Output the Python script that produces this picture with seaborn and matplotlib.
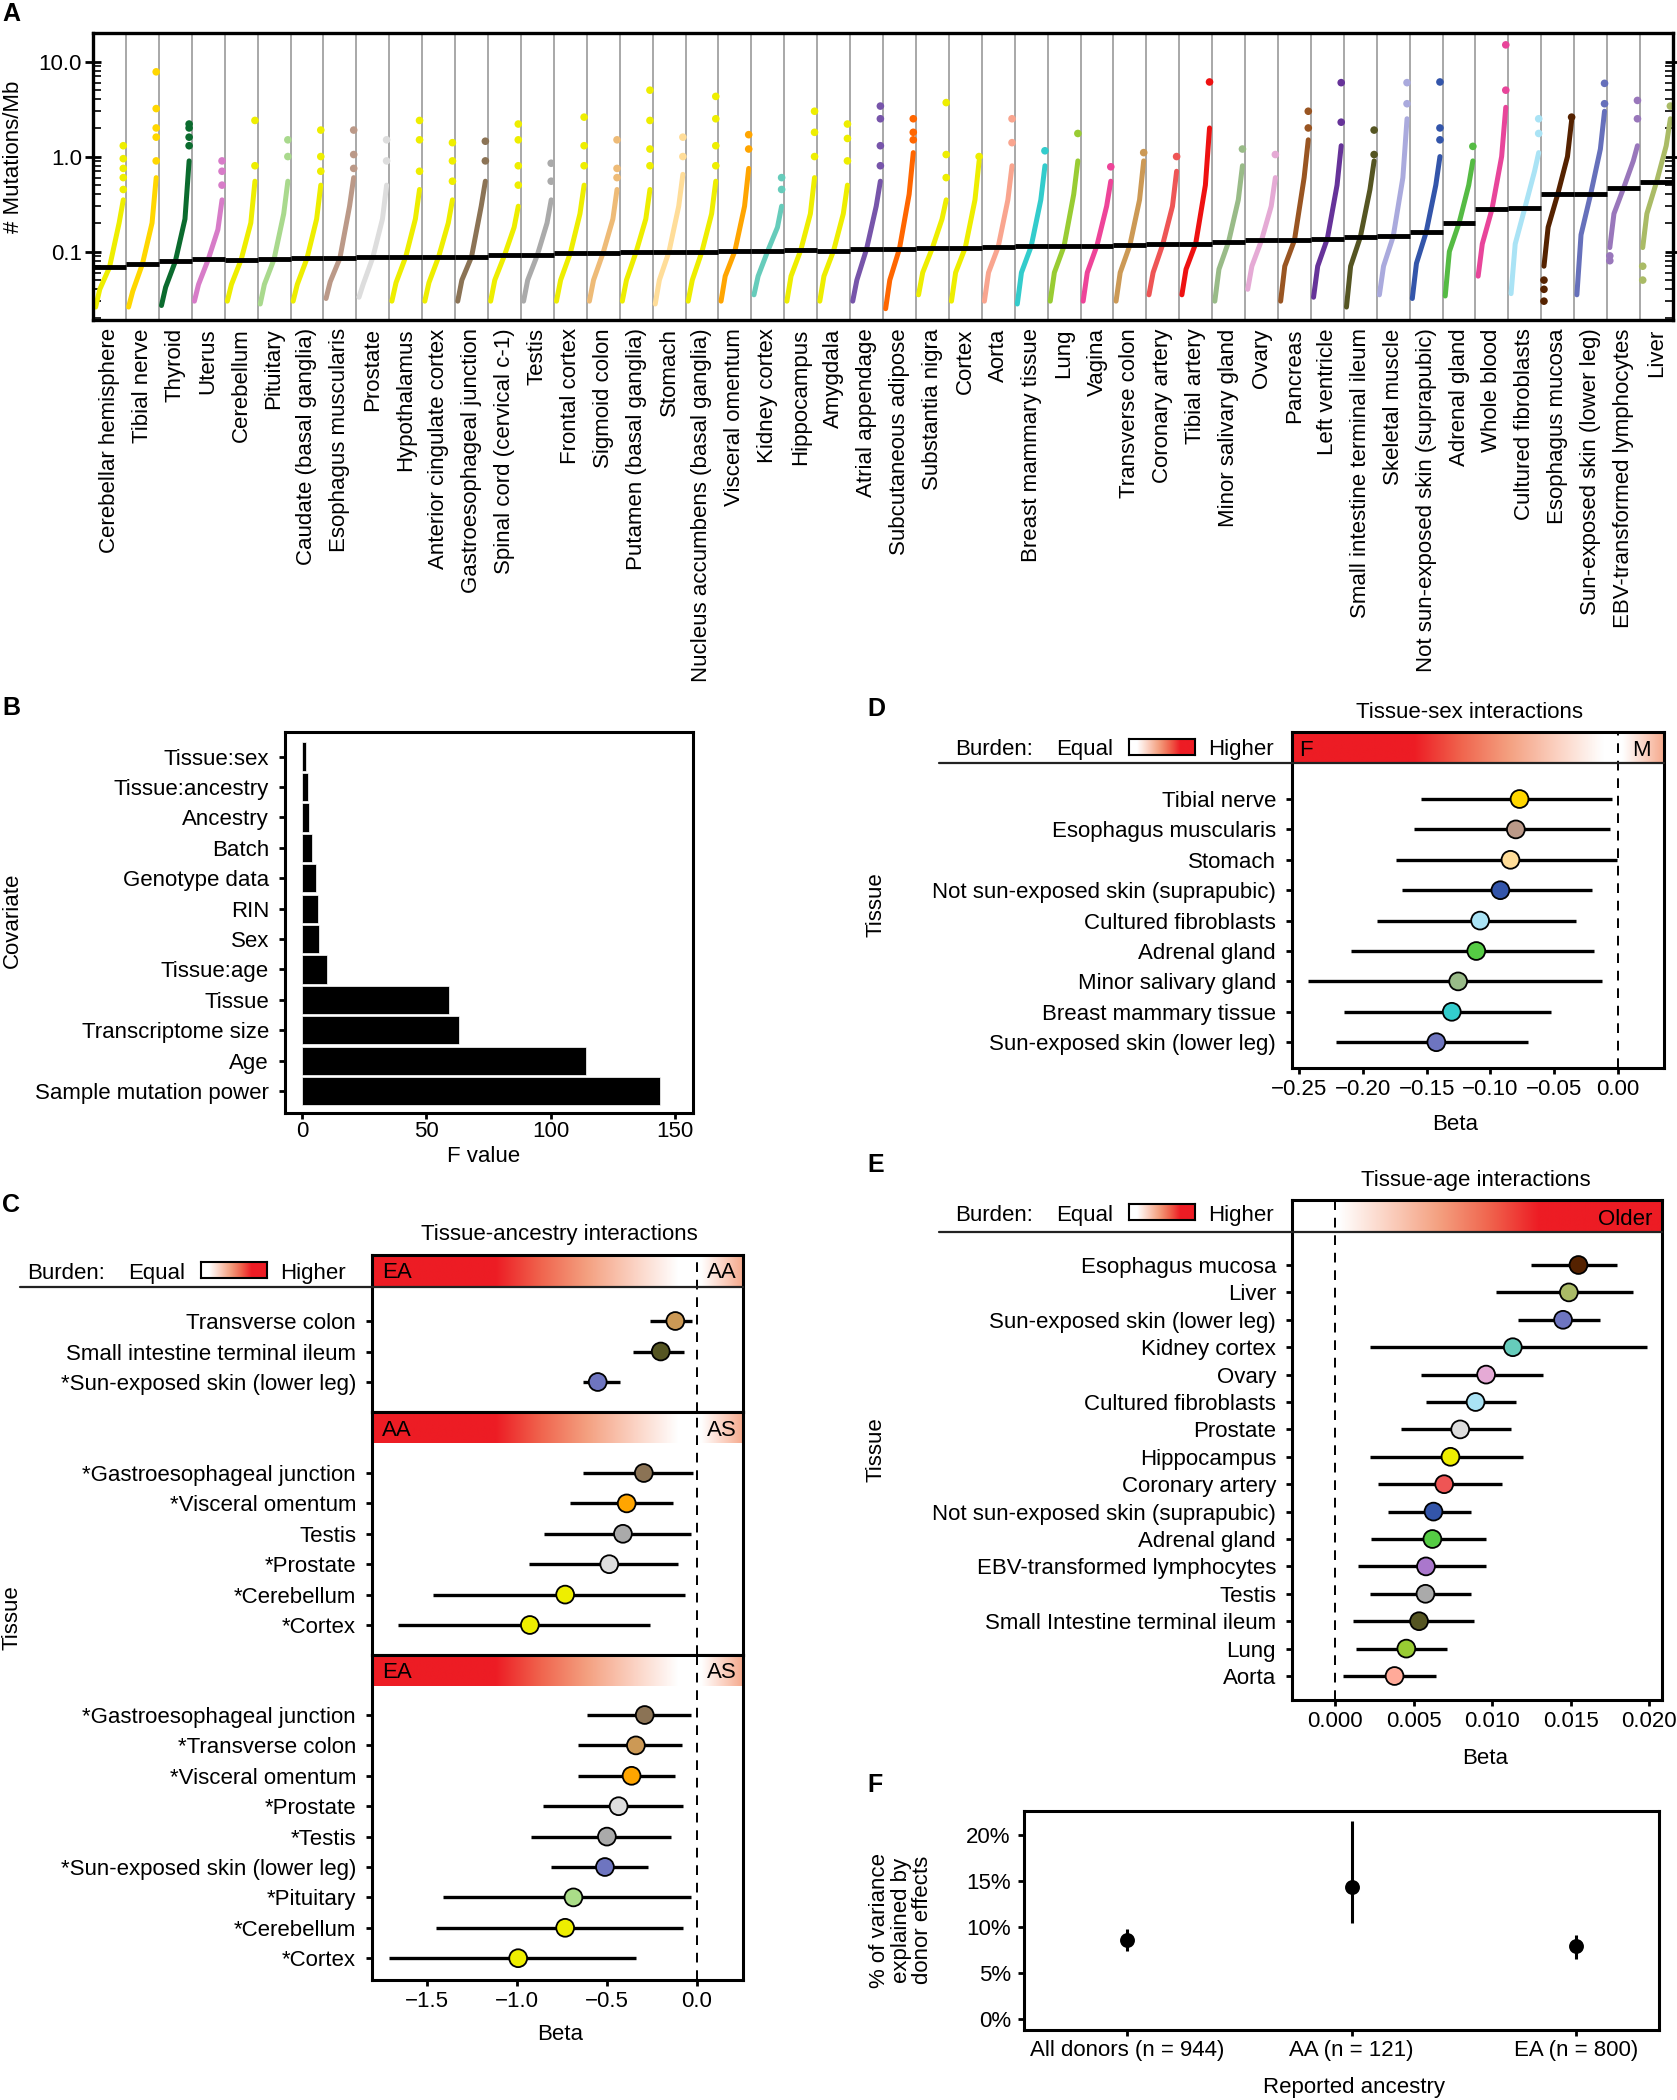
import numpy as np
import pandas as pd
import matplotlib
matplotlib.use("Agg")
import matplotlib.pyplot as plt
import seaborn as sns
from matplotlib.colors import LinearSegmentedColormap
from matplotlib.ticker import LogLocator, NullFormatter
from matplotlib.lines import Line2D

# ======================= DATA =======================
# Panel A
tissues_A = ["Cerebellar hemisphere", "Tibial nerve", "Thyroid", "Uterus", "Cerebellum", "Pituitary",
             "Caudate (basal ganglia)", "Esophagus muscularis", "Prostate", "Hypothalamus",
             "Anterior cingulate cortex", "Gastroesophageal junction", "Spinal cord (cervical c-1)", "Testis",
             "Frontal cortex", "Sigmoid colon", "Putamen (basal ganglia)", "Stomach",
             "Nucleus accumbens (basal ganglia)", "Visceral omentum", "Kidney cortex", "Hippocampus", "Amygdala",
             "Atrial appendage", "Subcutaneous adipose", "Substantia nigra", "Cortex", "Aorta",
             "Breast mammary tissue", "Lung", "Vagina", "Transverse colon", "Coronary artery", "Tibial artery",
             "Minor salivary gland", "Ovary", "Pancreas", "Left ventricle", "Small intestine terminal ileum",
             "Skeletal muscle", "Not sun-exposed skin (suprapubic)", "Adrenal gland", "Whole blood",
             "Cultured fibroblasts", "Esophagus mucosa", "Sun-exposed skin (lower leg)",
             "EBV-transformed lymphocytes", "Liver"]
colors_A = ["#EEEE00", "#FFD700", "#0B6B2E", "#D77CC8", "#EEEE00", "#A9D98D", "#EEEE00", "#BB9988",
            "#DDDDDD", "#EEEE00", "#EEEE00", "#8B7355", "#EEEE00", "#AAAAAA", "#EEEE00", "#EEBB77",
            "#EEEE00", "#FFDD99", "#EEEE00", "#FFA500", "#66CCBB", "#EEEE00", "#EEEE00", "#7755AA",
            "#FF6600", "#EEEE00", "#EEEE00", "#F9A58F", "#33CCCC", "#99CC33", "#EE4499", "#CC9955",
            "#EE5555", "#EE1111", "#99BB88", "#E5AAD5", "#995522", "#663399", "#555522", "#AAAADD",
            "#3355AA", "#55BB44", "#E8459A", "#AAE3F5", "#552200", "#6670BB", "#9977BB", "#AABB66"]
quantile_levels = [0.0, 0.15, 0.5, 0.85, 1.0]
min_A = [.026, .026, .027, .030, .030, .028, .030, .032, .033, .030, .030, .030, .030, .030, .030, .030,
         .030, .028, .030, .030, .035, .030, .030, .030, .025, .035, .030, .030, .028, .030, .030, .030,
         .035, .035, .030, .040, .030, .033, .026, .035, .032, .034, .055, .036, .070, .035, .110, .110]
q15_A = [.040, .038, .042, .045, .045, .045, .045, .048, .045, .047, .047, .050, .050, .050, .050, .050,
         .050, .050, .050, .055, .055, .055, .055, .050, .050, .060, .060, .060, .060, .060, .060, .060,
         .060, .065, .065, .070, .070, .070, .070, .070, .075, .100, .120, .120, .180, .150, .250, .250]
median_A = [.068, .0736, .0785, .0824, .082, .083, .0845, .085, .0865, .0878, .088, .088, .091, .092,
            .096, .0976, .099, .100, .100, .101, .1016, .103, .1024, .106, .107, .109, .110, .112, .113,
            .114, .1156, .1166, .1195, .1214, .127, .1316, .1316, .137, .1415, .144, .159, .199, .279,
            .288, .404, .404, .467, .540]
q85_A = [.20, .20, .22, .17, .20, .25, .22, .30, .22, .22, .20, .30, .18, .20, .25, .22, .22, .30, .25,
         .30, .18, .25, .25, .30, .40, .22, .35, .35, .35, .40, .30, .35, .30, .50, .35, .30, .60, .50,
         .45, .60, .50, .50, 1.0, .70, 1.0, 1.2, .90, 1.3]
top_A = [.35, .60, .90, .35, .55, .55, .50, .60, .50, .45, .35, .55, .30, .35, .50, .45, .45, .65, .55,
         .75, .30, .60, .50, .55, 1.1, .35, .90, .80, .80, .90, .55, .90, .70, 2.0, .80, .60, 1.5, 1.3,
         .90, 2.5, 1.0, .90, 3.3, 1.1, 2.4, 3.0, 1.3, 2.5]
high_out_A = [[.45, .6, .75, .95, 1.3], [.9, 1.6, 2.0, 3.2, 7.8], [1.3, 1.6, 2.0, 2.2], [.5, .7, .9],
              [.8, 2.4], [1.0, 1.5], [.7, 1.0, 1.9], [.75, 1.05, 1.9], [.9, 1.5], [.7, 1.5, 2.4],
              [.55, .9, 1.4], [.9, 1.45], [.5, .8, 1.5, 2.2], [.55, .85], [.8, 1.3, 2.6], [.6, .75, 1.5],
              [.8, 1.2, 2.4, 5.0], [1.0, 1.6], [.8, 1.3, 2.5, 4.3], [1.2, 1.7], [.45, .6], [1.0, 1.8, 3.0],
              [.9, 1.55, 2.2], [.8, 1.3, 2.5, 3.4], [1.5, 1.8, 2.5], [.6, 1.05, 3.7], [1.0], [1.4, 2.5],
              [1.15], [1.75], [.78], [1.1], [1.0], [6.1], [1.2], [1.05], [2.0, 3.0], [2.3, 6.0],
              [1.05, 1.9], [3.6, 6.0], [1.5, 2.0, 6.1], [1.28], [5.0, 15.0], [1.75, 2.5], [2.6],
              [3.6, 5.9], [2.5, 3.9], [3.4]]
low_out_A = [[] for _ in range(44)] + [[.03, .04, .05], [], [.08, .09], [.05, .07]]

# Panel B
cov_B = ["Tissue:sex", "Tissue:ancestry", "Ancestry", "Batch", "Genotype data", "RIN", "Sex",
         "Tissue:age", "Tissue", "Transcriptome size", "Age", "Sample mutation power"]
fval_B = [1.8, 2.6, 3.0, 4.2, 5.5, 6.5, 7.0, 10.2, 59.3, 63.0, 114.0, 143.9]

# Panel C
c1_labels = ["Transverse colon", "Small intestine terminal ileum", "*Sun-exposed skin (lower leg)"]
c1_beta = [-0.118, -0.199, -0.549]
c1_lo = [-0.261, -0.355, -0.630]
c1_hi = [-0.027, -0.070, -0.428]
c1_colors = ["#CC9955", "#555522", "#6E75C0"]

c2_labels = ["*Gastroesophageal junction", "*Visceral omentum", "Testis", "*Prostate", "*Cerebellum", "*Cortex"]
c2_beta = [-0.293, -0.388, -0.409, -0.485, -0.730, -0.926]
c2_lo = [-0.630, -0.705, -0.848, -0.929, -1.465, -1.661]
c2_hi = [-0.019, -0.132, -0.032, -0.105, -0.062, -0.256]
c2_colors = ["#8B7355", "#FFA500", "#AAAAAA", "#DDDDDD", "#EEEE00", "#EEEE00"]

c3_labels = ["*Gastroesophageal junction", "*Transverse colon", "*Visceral omentum", "*Prostate", "*Testis",
             "*Sun-exposed skin (lower leg)", "*Pituitary", "*Cerebellum", "*Cortex"]
c3_beta = [-0.288, -0.337, -0.361, -0.433, -0.498, -0.509, -0.684, -0.730, -0.991]
c3_lo = [-0.606, -0.660, -0.660, -0.853, -0.921, -0.808, -1.406, -1.446, -1.707]
c3_hi = [-0.032, -0.081, -0.121, -0.073, -0.140, -0.269, -0.032, -0.073, -0.337]
c3_colors = ["#8B7355", "#CC9955", "#FFA500", "#DDDDDD", "#AAAAAA", "#6E75C0", "#AADD88", "#EEEE00", "#EEEE00"]

# Panel D
d_labels = ["Tibial nerve", "Esophagus muscularis", "Stomach", "Not sun-exposed skin (suprapubic)",
            "Cultured fibroblasts", "Adrenal gland", "Minor salivary gland", "Breast mammary tissue",
            "Sun-exposed skin (lower leg)"]
d_beta = [-0.0772, -0.0801, -0.0843, -0.0922, -0.1081, -0.1111, -0.1253, -0.1303, -0.1424]
d_lo = [-0.1545, -0.1600, -0.1738, -0.1692, -0.1889, -0.2094, -0.2428, -0.2148, -0.2207]
d_hi = [-0.0044, -0.0060, -0.0008, -0.0207, -0.0332, -0.0186, -0.0128, -0.0525, -0.0705]
d_colors = ["#FFD700", "#BB9988", "#FFDD99", "#3355AA", "#AAE3F5", "#55CC44", "#99BB88", "#33CCCC", "#6E75C0"]

# Panel E
e_labels = ["Esophagus mucosa", "Liver", "Sun-exposed skin (lower leg)", "Kidney cortex", "Ovary",
            "Cultured fibroblasts", "Prostate", "Hippocampus", "Coronary artery",
            "Not sun-exposed skin (suprapubic)", "Adrenal gland", "EBV-transformed lymphocytes", "Testis",
            "Small Intestine terminal ileum", "Lung", "Aorta"]
e_beta = [0.01548, 0.01487, 0.0145, 0.0113, 0.0096, 0.00893, 0.00795, 0.00733, 0.00693, 0.00625,
          0.00618, 0.00577, 0.00574, 0.00533, 0.00452, 0.00377]
e_lo = [0.01246, 0.01025, 0.01161, 0.00221, 0.00543, 0.0058, 0.00417, 0.00218, 0.00272, 0.00333,
        0.00227, 0.00142, 0.00221, 0.00115, 0.00132, 0.00051]
e_hi = [0.01796, 0.01894, 0.01684, 0.01983, 0.01324, 0.01148, 0.01117, 0.01192, 0.01059, 0.00863,
        0.00957, 0.00961, 0.00866, 0.00886, 0.00709, 0.00642]
e_colors = ["#552200", "#AABB66", "#6E75C0", "#66CCBB", "#E5AAD5", "#AAE3F5", "#DDDDDD", "#EEEE00",
            "#EE5555", "#3355AA", "#55CC44", "#AA77CC", "#AAAAAA", "#555522", "#99CC33", "#FFAA99"]

# Panel F
groups_F = ["All donors (n = 944)", "AA (n = 121)", "EA (n = 800)"]
pct_F = [8.6, 14.4, 7.9]
lo_F = [7.4, 10.5, 6.5]
hi_F = [9.8, 21.5, 9.1]

# ======================= STYLE =======================
sns.set_theme(style="ticks")
plt.rcParams["font.family"] = ["Liberation Sans", "DejaVu Sans"]
plt.rcParams["font.size"] = 16
plt.rcParams["axes.unicode_minus"] = True
FS = 16
W, H = 1677, 2100
fig = plt.figure(figsize=(W / 100, H / 100), dpi=100)


def rect(l, t, r, b):
    return [l / W, 1 - b / H, (r - l) / W, (b - t) / H]


def ftext(x, y, s, **kw):
    kw.setdefault("fontsize", FS)
    kw.setdefault("color", "black")
    return fig.text(x / W, 1 - y / H, s, **kw)


def style(ax, lw=2.2):
    for s in ax.spines.values():
        s.set_visible(True)
        s.set_linewidth(lw)
        s.set_color("black")
    ax.tick_params(axis="both", which="major", direction="out", length=4.5, width=2,
                   color="black", labelsize=FS, labelcolor="black")
    ax.set_xlabel("")
    ax.set_ylabel("")


cmap_red = LinearSegmentedColormap.from_list(
    "burden", ["#FFFFFF", "#FBD0C0", "#F4A080", "#F0654E", "#ED1C24"])

# ======================= PANEL A =======================
axA = fig.add_axes(rect(93, 33, 1673, 320))
pal_A = dict(zip(tissues_A, colors_A))
rowsA = []
for i, t in enumerate(tissues_A):
    vals = [min_A[i], q15_A[i], median_A[i], q85_A[i], top_A[i]]
    for q, v in zip(quantile_levels, vals):
        rowsA.append(dict(tissue=t, pos=i + (q - 0.5) * 0.84, value=v))
dfA = pd.DataFrame(rowsA)
for i in range(len(tissues_A) - 1):
    axA.axvline(i + 0.5, color="#9a9a9a", lw=1.2, zorder=0)
sns.lineplot(data=dfA, x="pos", y="value", hue="tissue", units="tissue", estimator=None, sort=False,
             palette=pal_A, legend=False, lw=3.6, solid_capstyle="round", ax=axA, zorder=2)
rowsO = []
for i, t in enumerate(tissues_A):
    for v in high_out_A[i]:
        rowsO.append(dict(tissue=t, pos=i + 0.42, value=v))
    for v in low_out_A[i]:
        rowsO.append(dict(tissue=t, pos=i - 0.42, value=v))
dfO = pd.DataFrame(rowsO)
sns.scatterplot(data=dfO, x="pos", y="value", hue="tissue", palette=pal_A, s=30, linewidth=0,
                legend=False, ax=axA, zorder=2)
xi = np.arange(len(tissues_A))
axA.hlines(median_A, xi - 0.5, xi + 0.5, colors="black", lw=3.5, zorder=5)
axA.set_yscale("log")
axA.set_ylim(0.019, 20)
axA.set_xlim(-0.5, len(tissues_A) - 0.5)
style(axA, lw=2.4)
axA.set_yticks([0.1, 1, 10])
axA.set_yticklabels(["0.1", "1.0", "10.0"])
axA.yaxis.set_minor_locator(LogLocator(base=10, subs=np.arange(2, 10)))
axA.yaxis.set_minor_formatter(NullFormatter())
axA.tick_params(axis="y", which="major", direction="inout", length=12, width=2, right=True, pad=2)
axA.tick_params(axis="y", which="minor", direction="in", length=6, width=1.4, right=True, left=True)
axA.set_xticks(xi)
axA.set_xticklabels(tissues_A, rotation=90)
axA.tick_params(axis="x", length=0, pad=6)
ftext(14, 157, "# Mutations/Mb", rotation=90, ha="center", va="center")
ftext(2, 2, "A", fontsize=18, fontweight="bold", ha="left", va="top")

# ======================= PANEL B =======================
axB = fig.add_axes(rect(285, 732, 693, 1113))
dfB = pd.DataFrame({"cov": cov_B, "F": fval_B})
sns.barplot(data=dfB, x="F", y="cov", orient="h", color="black", saturation=1, width=0.93,
            edgecolor="white", linewidth=0.5, ax=axB)
axB.set_xlim(-6.8, 157.2)
axB.set_ylim(len(cov_B) - 1 + 0.72, -0.81)
style(axB)
axB.set_xticks([0, 50, 100, 150])
axB.tick_params(axis="x", pad=1.5)
axB.tick_params(axis="y", pad=7)
ftext(12, 920, "Covariate", rotation=90, ha="center", va="center")
ftext(484, 1157, "F value", ha="center", va="center")
ftext(2, 696, "B", fontsize=18, fontweight="bold", ha="left", va="top")


# ======================= FOREST HELPER =======================
def grad_neg(xmin, xmax, wfrac, rfrac):
    def f(xs):
        t = np.zeros_like(xs)
        m = xs < 0
        a = -xs[m] / -xmin
        t[m] = np.clip((a - wfrac) / (rfrac - wfrac), 0, 1)
        m2 = xs > 0
        b = xs[m2] / xmax
        t[m2] = 0.45 * np.clip((b - 0.1) / 0.9, 0, 1)
        return cmap_red(t)[:, :3]
    return f


def grad_pos(xmin, xmax, wfrac, rfrac):
    def f(xs):
        t = np.zeros_like(xs)
        m = xs > 0
        a = xs[m] / xmax
        t[m] = np.clip((a - wfrac) / (rfrac - wfrac), 0, 1)
        return cmap_red(t)[:, :3]
    return f


def forest(box, rows_px, labels, beta, lo, hi, colors, xlim, grad, xticks=None, xticklabels=None):
    l, r, top, sb, bot = box
    row0, sp = rows_px
    ax = fig.add_axes(rect(l, top, r, bot))
    y_top = (top - row0) / sp
    y_sb = (sb - row0) / sp
    y_bot = (bot - row0) / sp
    xs = np.linspace(xlim[0], xlim[1], 800)
    ax.imshow(grad(xs)[None, :, :], extent=(xlim[0], xlim[1], y_sb, y_top), aspect="auto",
              interpolation="bilinear", zorder=0)
    ax.axvline(0, color="black", lw=1.4, ls=(0, (5, 4)), zorder=1)
    n = len(labels)
    y = np.arange(n)
    df = pd.DataFrame({"tissue": labels, "beta": beta, "row": y})
    ax.hlines(y, lo, hi, colors="black", lw=2.4, zorder=2)
    sns.scatterplot(data=df, x="beta", y="row", hue="tissue", palette=dict(zip(labels, colors)),
                    s=165, edgecolor="black", linewidth=1.3, legend=False, zorder=3, ax=ax)
    ax.set_xlim(xlim)
    ax.set_ylim(y_bot, y_top)
    style(ax)
    ax.set_yticks(y)
    ax.set_yticklabels(labels)
    ax.tick_params(axis="y", pad=7)
    if xticks is None:
        ax.tick_params(axis="x", bottom=False, labelbottom=False)
    else:
        ax.set_xticks(xticks)
        ax.set_xticklabels(xticklabels)
        ax.tick_params(axis="x", pad=3.5)
    return ax


def burden_legend(x0, baseline, box_t, box_b, line_y, line_x0, line_x1):
    ftext(x0, baseline, "Burden:", ha="left", va="baseline")
    ftext(x0 + 101, baseline, "Equal", ha="left", va="baseline")
    axg = fig.add_axes(rect(x0 + 174, box_t, x0 + 240, box_b))
    s = np.linspace(0, 1, 200)
    axg.imshow(cmap_red(np.clip((s - 0.12) / 0.65, 0, 1))[None, :, :3], aspect="auto",
               extent=(0, 1, 0, 1))
    axg.set_xticks([])
    axg.set_yticks([])
    for sp_ in axg.spines.values():
        sp_.set_linewidth(1.5)
        sp_.set_color("black")
    ftext(x0 + 253, baseline, "Higher", ha="left", va="baseline")
    fig.add_artist(Line2D([line_x0 / W, line_x1 / W], [1 - line_y / H, 1 - line_y / H],
                          color="#222222", lw=1.6))


# ======================= PANEL C =======================
xlimC = (-1.803, 0.258)
gC = grad_neg(xlimC[0], xlimC[1], 0.055, 0.62)
forest((372, 743, 1255, 1287, 1412), (1321, 30.5), c1_labels, c1_beta, c1_lo, c1_hi, c1_colors, xlimC, gC)
forest((372, 743, 1412, 1443, 1655), (1473, 30.4), c2_labels, c2_beta, c2_lo, c2_hi, c2_colors, xlimC, gC)
forest((372, 743, 1655, 1686, 1980), (1715, 30.4), c3_labels, c3_beta, c3_lo, c3_hi, c3_colors, xlimC, gC,
       xticks=[-1.5, -1.0, -0.5, 0.0], xticklabels=["\u22121.5", "\u22121.0", "\u22120.5", "0.0"])
burden_legend(27, 1279, 1262, 1278, 1287, 20, 743)
ftext(382, 1278, "EA", ha="left", va="baseline")
ftext(737, 1278, "AA", ha="right", va="baseline")
ftext(382, 1436, "AA", ha="left", va="baseline")
ftext(737, 1436, "AS", ha="right", va="baseline")
ftext(382, 1678, "EA", ha="left", va="baseline")
ftext(737, 1678, "AS", ha="right", va="baseline")
ftext(559, 1240, "Tissue-ancestry interactions", ha="center", va="baseline")
ftext(12, 1618, "Tissue", rotation=90, ha="center", va="center")
ftext(560, 2035, "Beta", ha="center", va="center")
ftext(2, 1193, "C", fontsize=18, fontweight="bold", ha="left", va="top")

# ======================= PANEL D =======================
xlimD = (-0.2555, 0.036)
forest((1292, 1664, 732, 763, 1068), (799, 30.4), d_labels, d_beta, d_lo, d_hi, d_colors, xlimD,
       grad_neg(xlimD[0], xlimD[1], 0.043, 0.626),
       xticks=[-0.25, -0.20, -0.15, -0.10, -0.05, 0.0],
       xticklabels=["\u22120.25", "\u22120.20", "\u22120.15", "\u22120.10", "\u22120.05", "0.00"])
burden_legend(955, 755, 739, 755, 763, 939, 1664)
ftext(1299, 756, "F", ha="left", va="baseline")
ftext(1651, 756, "M", ha="right", va="baseline")
ftext(1469, 718, "Tissue-sex interactions", ha="center", va="baseline")
ftext(876, 905, "Tissue", rotation=90, ha="center", va="center")
ftext(1455, 1125, "Beta", ha="center", va="center")
ftext(867, 697, "D", fontsize=18, fontweight="bold", ha="left", va="top")

# ======================= PANEL E =======================
xlimE = (-0.00276, 0.0208)
forest((1292, 1662, 1200, 1232, 1700), (1265, 27.4), e_labels, e_beta, e_lo, e_hi, e_colors, xlimE,
       grad_pos(xlimE[0], xlimE[1], 0.01, 0.625),
       xticks=[0.0, 0.005, 0.010, 0.015, 0.020],
       xticklabels=["0.000", "0.005", "0.010", "0.015", "0.020"])
burden_legend(955, 1221, 1204, 1220, 1232, 939, 1662)
ftext(1652, 1225, "Older", ha="right", va="baseline")
ftext(1476, 1186, "Tissue-age interactions", ha="center", va="baseline")
ftext(876, 1450, "Tissue", rotation=90, ha="center", va="center")
ftext(1485, 1758, "Beta", ha="center", va="center")
ftext(867, 1153, "E", fontsize=18, fontweight="bold", ha="left", va="top")

# ======================= PANEL F =======================
axF = fig.add_axes(rect(1024, 1811, 1659, 2030))
dfF = pd.DataFrame({"group": groups_F, "pct": pct_F, "pos": np.arange(len(groups_F))})
axF.vlines(dfF["pos"], lo_F, hi_F, colors="black", lw=2.2, zorder=2)
sns.scatterplot(data=dfF, x="pos", y="pct", color="black", s=115, linewidth=0, legend=False, ax=axF, zorder=3)
axF.set_xlim(-0.46, 2.37)
axF.set_ylim(-1.16, 22.6)
style(axF)
axF.set_yticks([0, 5, 10, 15, 20])
axF.set_yticklabels(["0%", "5%", "10%", "15%", "20%"])
axF.set_xticks(dfF["pos"])
axF.set_xticklabels(groups_F)
axF.tick_params(axis="x", pad=3)
axF.tick_params(axis="y", pad=5)
ftext(901, 1920, "% of variance\nexplained by\ndonor effects", rotation=90, ha="center", va="center",
      multialignment="center", linespacing=1.05)
ftext(1354, 2088, "Reported ancestry", ha="center", va="center")
ftext(867, 1773, "F", fontsize=18, fontweight="bold", ha="left", va="top")

fig.savefig("out.png", dpi=100)
